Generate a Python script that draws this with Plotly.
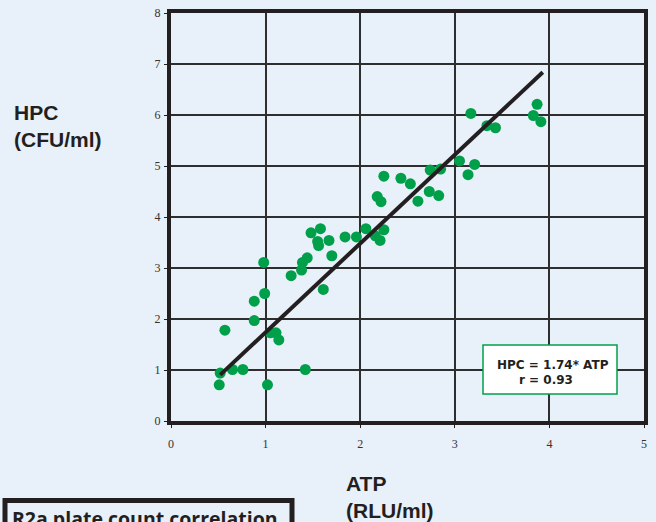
import plotly.graph_objects as go

# ---- data ----
atp = [0.52, 0.51, 0.65, 0.76, 0.57, 0.88, 0.88, 0.99, 0.98, 1.02,
       1.05, 1.11, 1.14, 1.42, 1.27, 1.38, 1.39, 1.44, 1.61, 1.70,
       1.48, 1.58, 1.55, 1.56, 1.67, 1.84, 1.96, 2.06, 2.16, 2.21,
       2.25, 2.18, 2.22, 2.25, 2.43, 2.53, 2.61, 2.73, 2.83, 2.74,
       2.85, 3.05, 3.21, 3.14, 3.17, 3.34, 3.43, 3.87, 3.83, 3.91]
hpc = [0.94, 0.71, 1.01, 1.01, 1.78, 1.97, 2.35, 2.50, 3.11, 0.71,
       1.73, 1.73, 1.59, 1.01, 2.85, 2.96, 3.11, 3.20, 2.58, 3.24,
       3.69, 3.77, 3.52, 3.44, 3.54, 3.61, 3.61, 3.77, 3.63, 3.54,
       3.75, 4.40, 4.30, 4.80, 4.76, 4.65, 4.31, 4.50, 4.42, 4.92,
       4.94, 5.10, 5.03, 4.83, 6.03, 5.79, 5.75, 6.21, 5.99, 5.87]
slope = 1.74
r_value = 0.93
fit_x = [0.52, 3.93]
fit_y = [slope * v for v in fit_x]
x_ticks = [0, 1, 2, 3, 4, 5]
y_ticks = [0, 1, 2, 3, 4, 5, 6, 7, 8]

BG = "#e8f0f9"
DARK = "#231f20"
GREEN = "#00a04b"

fig = go.Figure()
fig.add_trace(go.Scatter(x=atp, y=hpc, mode="markers",
                         marker=dict(color=GREEN, size=11, line=dict(width=0)),
                         showlegend=False, hoverinfo="x+y"))
fig.add_trace(go.Scatter(x=fit_x, y=fit_y, mode="lines",
                         line=dict(color=DARK, width=4),
                         showlegend=False, hoverinfo="skip"))

axis_common = dict(showline=True, linewidth=4, linecolor=DARK, mirror=True,
                   showgrid=True, gridcolor="#2e2e2e", gridwidth=1.5,
                   zeroline=False, ticks="outside", ticklen=3, tickwidth=1,
                   tickcolor=DARK, automargin=False,
                   tickfont=dict(family="Liberation Serif", size=12, color="#333333"))

fig.update_xaxes(range=[0, 5], tickvals=x_ticks, ticklabelstandoff=6, **axis_common)
fig.update_yaxes(range=[0, 8], tickvals=y_ticks, ticklabelstandoff=1, **axis_common)

W, H = 656, 522
L, R, T, B = 171, 12, 13, 101

def px(x):
    return (x - L) / (W - L - R)

def py(y):
    return (H - B - y) / (H - T - B)

title_font = dict(family="Liberation Sans", size=21, color=DARK)
ann = [
    dict(text="<b>HPC<br>(CFU/ml)</b>", x=px(12), y=py(126), xref="paper", yref="paper",
         xanchor="left", yanchor="middle", align="left", showarrow=False, font=title_font),
    dict(text="<b>ATP<br>(RLU/ml)</b>", x=px(344), y=py(497), xref="paper", yref="paper",
         xanchor="left", yanchor="middle", align="left", showarrow=False, font=title_font),
    dict(text=f"<b>HPC = {slope}* ATP</b>", x=px(495), y=py(365), xref="paper", yref="paper",
         xanchor="left", yanchor="middle", showarrow=False,
         font=dict(family="DejaVu Sans", size=12, color=DARK)),
    dict(text=f"<b>r = {r_value}</b>", x=px(517), y=py(380), xref="paper", yref="paper",
         xanchor="left", yanchor="middle", showarrow=False,
         font=dict(family="DejaVu Sans", size=12, color=DARK)),
    dict(text="<b>R2a plate count correlation</b>", x=px(10), y=py(518), xref="paper", yref="paper",
         xanchor="left", yanchor="middle", showarrow=False,
         font=dict(family="Open Sans", size=19.5, color=DARK)),
]

shapes = [
    dict(type="rect", xref="paper", yref="paper", x0=px(483), x1=px(617), y0=py(394), y1=py(345),
         line=dict(color=GREEN, width=1.5), fillcolor="white", layer="above"),
    dict(type="rect", xref="paper", yref="paper", x0=px(5), x1=px(292), y0=py(540), y1=py(500.5),
         line=dict(color=DARK, width=5), fillcolor=BG, layer="above"),
]

fig.update_layout(width=W, height=H, margin=dict(l=L, r=R, t=T, b=B, autoexpand=False),
                  paper_bgcolor=BG, plot_bgcolor=BG,
                  annotations=ann, shapes=shapes, showlegend=False)

fig.write_html("out.html", config={"displayModeBar": False},
               post_script="document.body.style.margin='0';"
                           "document.body.style.overflow='hidden';"
                           f"document.body.style.background='{BG}';")
